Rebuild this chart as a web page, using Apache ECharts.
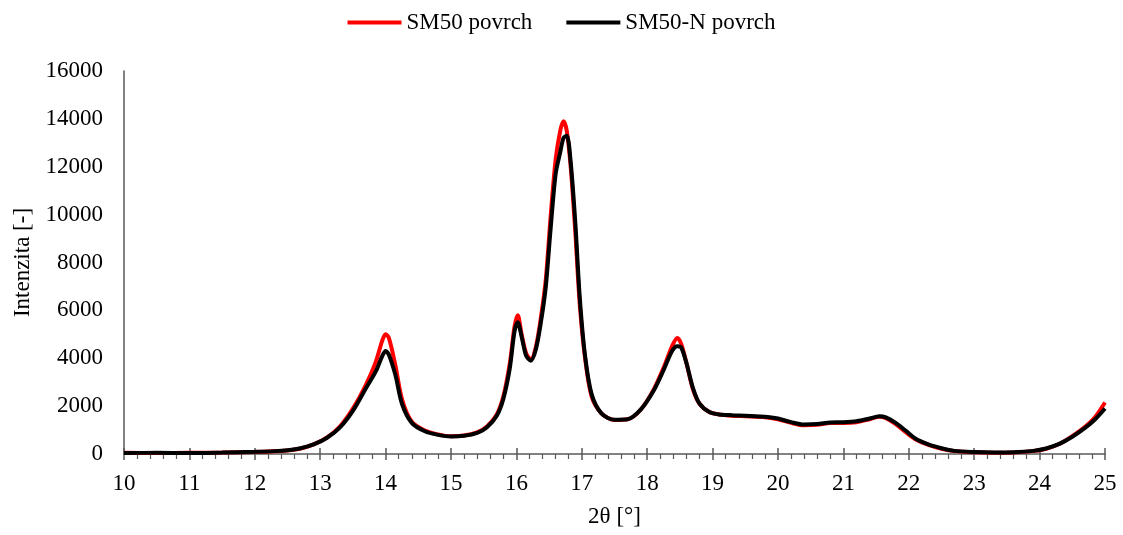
<!DOCTYPE html>
<html>
<head>
<meta charset="utf-8">
<script src="https://cdn.jsdelivr.net/npm/echarts@6/dist/echarts.min.js"></script>
<style>
  html, body { margin: 0; padding: 0; background: #fff; }
  #chart { width: 1123px; height: 535px; }
</style>
</head>
<body>
<div id="chart"></div>
<script>
// 2θ hodnoty (spolecne pro obe serie)
const angles = [10, 10.5, 11, 11.5, 12, 12.3, 12.5, 12.7, 12.9, 13.1, 13.3, 13.5, 13.7, 13.85, 13.95, 14.0, 14.05, 14.15, 14.25, 14.4,
  14.6, 14.8, 15.0, 15.2, 15.4, 15.55, 15.7, 15.8, 15.9, 15.97, 16.02, 16.08, 16.15, 16.22, 16.3, 16.38, 16.45, 16.52, 16.6, 16.67,
  16.72, 16.77, 16.83, 16.9, 16.97, 17.05, 17.15, 17.3, 17.5, 17.7, 17.9, 18.1, 18.25, 18.38, 18.46, 18.52, 18.6, 18.7, 18.8, 18.95,
  19.1, 19.3, 19.5, 19.8, 20.0, 20.2, 20.4, 20.6, 20.8, 21.0, 21.2, 21.4, 21.55, 21.65, 21.8, 21.95, 22.1, 22.3, 22.5, 22.7,
  23.0, 23.3, 23.6, 23.9, 24.1, 24.3, 24.5, 24.7, 24.85, 25.0]

// SM50 povrch
const sm50 = [50, 40, 50, 60, 80, 110, 150, 230, 400, 680, 1150, 1900, 2900, 3850, 4750, 5000, 4850, 3700, 2300, 1350,
  980, 820, 740, 770, 900, 1150, 1650, 2400, 3800, 5300, 5800, 5000, 4200, 3950, 4500, 5800, 7300, 9800, 12300, 13500,
  13900, 13500, 12000, 9300, 6200, 4000, 2400, 1700, 1420, 1450, 1850, 2700, 3600, 4500, 4850, 4600, 3800, 2700, 2100, 1750,
  1650, 1600, 1580, 1540, 1450, 1300, 1200, 1220, 1300, 1300, 1330, 1450, 1560, 1500, 1250, 920, 620, 380, 220, 120,
  70, 50, 60, 120, 220, 420, 750, 1150, 1550, 2150]

// SM50-N povrch
const sm50n = [40, 50, 40, 60, 90, 120, 160, 240, 400, 670, 1100, 1800, 2750, 3450, 4100, 4300, 4150, 3300, 2100, 1300,
  950, 800, 730, 760, 880, 1120, 1600, 2300, 3600, 5100, 5500, 4900, 4100, 3900, 4400, 5600, 7000, 9300, 11700, 12600,
  13200, 13300, 12200, 9700, 6500, 4100, 2500, 1700, 1430, 1450, 1850, 2650, 3500, 4300, 4500, 4450, 3800, 2750, 2100, 1750,
  1650, 1620, 1600, 1560, 1480, 1330, 1230, 1250, 1320, 1330, 1370, 1480, 1580, 1530, 1300, 980, 650, 400, 240, 130,
  80, 60, 70, 130, 230, 420, 720, 1100, 1450, 1900]

const yTicks = [0, 2000, 4000, 6000, 8000, 10000, 12000, 14000, 16000]

const chart = echarts.init(document.getElementById('chart'))
const font = '"Liberation Serif", "Times New Roman", serif'
const axisColor = '#595959'
const fs = 23

const pairs = (ys) => angles.map((a, i) => [a, ys[i]])

chart.setOption({
  animation: false,
  textStyle: { fontFamily: font },
  legend: {
    top: 6,
    left: 'center',
    itemWidth: 54,
    itemHeight: 4,
    itemGap: 34,
    icon: 'rect',
    textStyle: { fontFamily: font, fontSize: fs, color: '#000' },
    data: ['SM50 povrch', 'SM50-N povrch']
  },
  grid: { left: 124, right: 18, top: 71, bottom: 81 },
  xAxis: [
    {
      type: 'value',
      min: 10,
      max: 25,
      interval: 1,
      name: '2θ [°]',
      nameLocation: 'middle',
      nameGap: 51,
      nameTextStyle: { fontFamily: font, fontSize: fs, color: '#000' },
      axisLine: { lineStyle: { color: axisColor, width: 1.5 } },
      axisTick: { show: true, length: 6, lineStyle: { color: axisColor, width: 1.5 } },
      minorTick: { show: true, splitNumber: 5, length: 5, lineStyle: { color: axisColor, width: 1.2 } },
      axisLabel: { fontFamily: font, fontSize: fs, color: '#000', margin: 18 },
      splitLine: { show: false }
    },
    {
      // horni polovina hlavnich ticku (cross)
      type: 'value',
      position: 'bottom',
      min: 10,
      max: 25,
      interval: 1,
      axisLine: { show: false },
      axisTick: { show: true, inside: true, length: 6, lineStyle: { color: axisColor, width: 1.5 } },
      axisLabel: { show: false },
      splitLine: { show: false }
    }
  ],
  yAxis: {
    type: 'value',
    min: 0,
    max: 16000,
    interval: 2000,
    name: 'Intenzita [-]',
    nameLocation: 'middle',
    nameGap: 90,
    nameTextStyle: { fontFamily: font, fontSize: fs, color: '#000' },
    axisLine: { show: true, lineStyle: { color: axisColor, width: 1.5 } },
    axisTick: { show: false },
    axisLabel: {
      fontFamily: font, fontSize: fs, color: '#000', margin: 21,
      formatter: (v) => yTicks.includes(v) ? String(v) : ''
    },
    splitLine: { show: false }
  },
  series: [
    {
      name: 'SM50 povrch',
      type: 'line',
      xAxisIndex: 0,
      data: pairs(sm50),
      showSymbol: false,
      smooth: 0.3,
      lineStyle: { color: '#ff0000', width: 4 },
      itemStyle: { color: '#ff0000' },
      z: 2
    },
    {
      name: 'SM50-N povrch',
      type: 'line',
      xAxisIndex: 0,
      data: pairs(sm50n),
      showSymbol: false,
      smooth: 0.3,
      lineStyle: { color: '#000000', width: 4 },
      itemStyle: { color: '#000000' },
      z: 3
    }
  ]
})
</script>
</body>
</html>
